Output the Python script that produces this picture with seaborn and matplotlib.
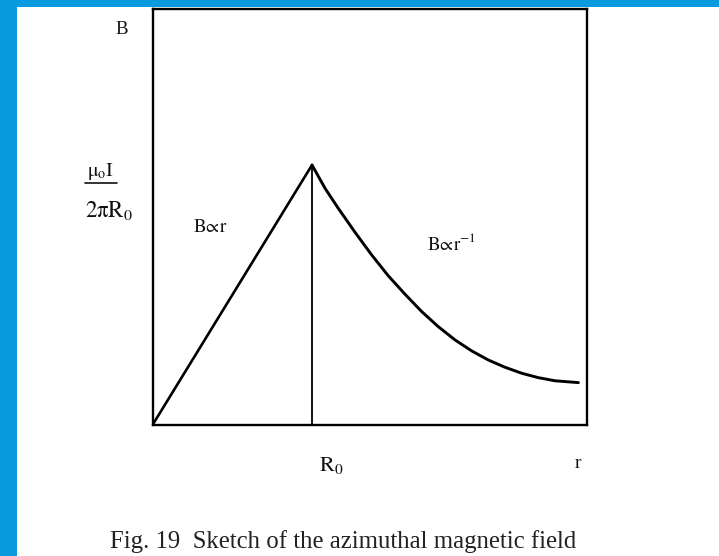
import matplotlib
matplotlib.use("Agg")
import matplotlib.pyplot as plt
from matplotlib.patches import Rectangle
from matplotlib.lines import Line2D
import pandas as pd
import seaborn as sns

# Radius in units of R0, field in units of mu0 I / (2 pi R0)
r_inside = [0.0, 1.0]
b_inside = [0.0, 1.0]

r_outside = [1.0, 1.082, 1.165, 1.270, 1.374, 1.478, 1.583, 1.688, 1.792,
             1.897, 2.001, 2.105, 2.210, 2.315, 2.419, 2.524, 2.670]
b_outside = [1.0, 0.910, 0.833, 0.741, 0.654, 0.574, 0.503, 0.436, 0.378,
             0.327, 0.285, 0.250, 0.222, 0.199, 0.182, 0.170, 0.163]

R0 = 1.0
B_peak = 1.0
r_max = 2.722
b_max = 1.60

sns.set_theme(style="white")
plt.rcParams["font.family"] = ["Liberation Serif", "DejaVu Serif"]
plt.rcParams["mathtext.fontset"] = "stix"

fig = plt.figure(figsize=(7.19, 5.56), dpi=100)
fig.patch.set_facecolor("white")

# blue frame strips
blue = "#0a9ade"
fig.patches.append(Rectangle((0, 0), 17 / 719, 1, transform=fig.transFigure,
                             facecolor=blue, edgecolor="none", zorder=0))
fig.patches.append(Rectangle((0, 1 - 7 / 556), 1, 7 / 556, transform=fig.transFigure,
                             facecolor=blue, edgecolor="none", zorder=0))

ax = fig.add_axes([152.5 / 719, (556 - 425) / 556, 434.2 / 719, 416 / 556])

inside = pd.DataFrame({"r": r_inside, "B": b_inside})
outside = pd.DataFrame({"r": r_outside, "B": b_outside})

line_kw = dict(color="black", sort=False, estimator=None,
               solid_capstyle="round", solid_joinstyle="round")
sns.lineplot(data=inside, x="r", y="B", ax=ax, lw=1.9, **line_kw)
sns.lineplot(data=outside, x="r", y="B", ax=ax, lw=2.1, **line_kw)
ax.vlines(R0, 0, B_peak, color="black", lw=1.3)

ax.set_xlim(0, r_max)
ax.set_ylim(0, b_max)
ax.set_xticks([])
ax.set_yticks([])
ax.set_xlabel("")
ax.set_ylabel("")
for s in ax.spines.values():
    s.set_color("black")
    s.set_linewidth(1.7)

tc = "#111111"
# axis labels
fig.text(122 / 719, 1 - 30 / 556, "B", ha="center", va="center", fontsize=13.5, color=tc)
fig.text(578 / 719, 1 - 463 / 556, "r", ha="center", va="center", fontsize=14, color=tc)
fig.text(331 / 719, 1 - 465 / 556, r"$\mathrm{R_0}$", ha="center", va="center",
         fontsize=16, color=tc)

# peak value label
fig.text(101 / 719, 1 - 171 / 556, r"$\mathrm{\mu_o I}$", ha="center", va="center",
         fontsize=14.5, color=tc)
fig.lines.append(Line2D([85 / 719, 117 / 719], [1 - 183 / 556, 1 - 183 / 556],
                        transform=fig.transFigure, color=tc, lw=1.2))
fig.text(109 / 719, 1 - 211 / 556, r"$\mathrm{2\pi R_0}$", ha="center", va="center",
         fontsize=16.5, color=tc)

# regime annotations
fig.text(210 / 719, 1 - 227 / 556, r"$\mathrm{B\!\propto\! r}$", ha="center", va="center",
         fontsize=13.5, color=tc)
fig.text(451 / 719, 1 - 244 / 556, r"$\mathrm{B\!\propto\! r^{-1}}$", ha="center",
         va="center", fontsize=13.5, color=tc)

# caption
fig.text(343 / 719, 1 - 542 / 556, "Fig. 19  Sketch of the azimuthal magnetic field",
         ha="center", va="center", fontsize=17.8, color="#222222")

fig.savefig("out.png", dpi=100)
